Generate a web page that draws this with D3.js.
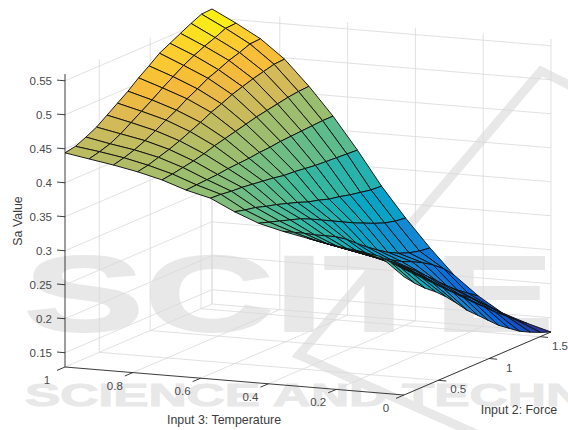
<!DOCTYPE html>
<html>
<head>
<meta charset="utf-8">
<title>Sa surface</title>
<script src="https://d3js.org/d3.v7.min.js"></script>
<style>
html, body { margin: 0; padding: 0; background: #fff; }
text { font-family: "Liberation Sans", Arial, sans-serif; }
.tick { font-size: 11.5px; fill: #4a4a4a; }
.label { font-size: 12.4px; fill: #3c3c3c; }
</style>
</head>
<body>
<svg id="chart" width="568" height="430"></svg>
<script>
// values
var tempValues = [1, 0.929, 0.857, 0.786, 0.714, 0.643, 0.571, 0.5, 0.429, 0.357, 0.286, 0.214, 0.143, 0.071, 0];
var forceValues = [0.163, 0.266, 0.369, 0.473, 0.576, 0.679, 0.782, 0.886, 0.989, 1.092, 1.195, 1.298, 1.402, 1.505, 1.608];
// one row per temperature, one column per force
var saRows = [
  [.444,.447,.454,.462,.473,.484,.495,.508,.519,.531,.539,.547,.555,.562,.563],
  [.438,.442,.447,.455,.465,.475,.485,.496,.506,.516,.524,.531,.537,.544,.545],
  [.432,.436,.441,.448,.456,.465,.473,.483,.491,.500,.506,.513,.518,.524,.525],
  [.425,.428,.433,.438,.444,.451,.458,.466,.472,.479,.484,.489,.493,.497,.498],
  [.416,.418,.421,.424,.428,.433,.437,.441,.445,.449,.452,.455,.458,.460,.461],
  [.404,.405,.406,.407,.409,.410,.411,.413,.414,.416,.417,.418,.419,.420,.420],
  [.395,.394,.392,.391,.389,.387,.385,.382,.381,.379,.377,.376,.375,.374,.373],
  [.378,.374,.371,.366,.362,.357,.352,.346,.342,.337,.334,.330,.327,.324,.323],
  [.364,.359,.354,.349,.344,.337,.329,.321,.313,.305,.298,.291,.285,.281,.279],
  [.355,.347,.339,.330,.322,.314,.304,.291,.279,.268,.258,.250,.244,.240,.238],
  [.348,.337,.326,.315,.304,.293,.282,.272,.263,.254,.247,.239,.229,.217,.201],
  [.341,.330,.319,.308,.297,.286,.275,.262,.250,.236,.222,.208,.195,.184,.173],
  [.336,.325,.313,.300,.287,.274,.260,.246,.230,.217,.204,.193,.179,.165,.151],
  [.330,.315,.300,.286,.272,.258,.244,.230,.216,.202,.189,.175,.163,.150,.139],
  [.303,.287,.273,.261,.247,.231,.214,.200,.186,.172,.161,.150,.142,.135,.129]
];
var zTicks = [0.15, 0.2, 0.25, 0.3, 0.35, 0.4, 0.45, 0.5, 0.55];
var tTicks = [1, 0.8, 0.6, 0.4, 0.2, 0];
var fTicks = [0.5, 1, 1.5];
var parulaStops = [0, 0.14, 0.29, 0.43, 0.57, 0.71, 0.82, 0.87, 0.94, 1];
var parulaColors = ["#352a87", "#0363e1", "#1485d4", "#06a7c6", "#38b99e", "#92bf73", "#d9ba56", "#f5ba3b", "#fcce2e", "#f9fb0e"];

var zMin = 0.129, zMax = 0.56, fMin = 0.163, fMax = 1.608;

var svg = d3.select("#chart");

var tX = d3.scaleLinear().domain([1, 0]).range([0, 339]),
    tY = d3.scaleLinear().domain([1, 0]).range([0, 28]),
    fX = d3.scaleLinear().domain([fMin, fMax]).range([0, 147]),
    fY = d3.scaleLinear().domain([fMin, fMax]).range([0, -63]),
    zY = d3.scaleLinear().domain([zMin, zMax]).range([0, -293]);

function px(t, f) { return 65 + tX(t) + fX(f); }
function py(t, f, z) { return 367 + tY(t) + fY(f) + zY(z); }

var cScale = d3.scaleLinear()
  .domain(parulaStops.map(function(d) { return zMin + d * (0.563 - zMin); }))
  .range(parulaColors)
  .interpolate(d3.interpolateRgb)
  .clamp(true);

// watermark behind everything
var mark = svg.append("g").style("fill", "#e8e8e8").style("stroke", "#e8e8e8");
mark.append("text").text("SCITE")
  .attr("x", 24).attr("y", 331)
  .attr("textLength", 530).attr("lengthAdjust", "spacingAndGlyphs")
  .style("font-size", "108px").style("font-weight", "bold").style("stroke-width", 2);
mark.append("text").text("SCIENCE AND TECHNOLOGY")
  .attr("x", 25).attr("y", 406)
  .attr("textLength", 750).attr("lengthAdjust", "spacingAndGlyphs")
  .style("font-size", "32px").style("font-weight", "bold").style("stroke-width", 1);
mark.append("path")
  .attr("d", "M575,88L541,71L299,355L490,440")
  .style("fill", "none").style("stroke-width", 9);

// grid on the floor and the two back walls
var grid = svg.append("g").attr("stroke", "#d9d9d9").attr("stroke-width", 0.8).attr("fill", "none");
function seg(g, a, b) {
  g.append("line").attr("x1", px(a[0], a[1])).attr("y1", py(a[0], a[1], a[2]))
    .attr("x2", px(b[0], b[1])).attr("y2", py(b[0], b[1], b[2]));
}
tTicks.forEach(function(t) {
  seg(grid, [t, fMin, zMin], [t, fMax, zMin]);
  seg(grid, [t, fMax, zMin], [t, fMax, zMax]);
});
fTicks.forEach(function(f) {
  seg(grid, [1, f, zMin], [0, f, zMin]);
  seg(grid, [1, f, zMin], [1, f, zMax]);
});
seg(grid, [1, fMax, zMin], [0, fMax, zMin]);
seg(grid, [1, fMax, zMin], [1, fMax, zMax]);
zTicks.forEach(function(z) {
  seg(grid, [1, fMin, z], [1, fMax, z]);
  seg(grid, [1, fMax, z], [0, fMax, z]);
});

// surface, far cells first
var surf = svg.append("g").attr("stroke", "#111").attr("stroke-width", 0.95).attr("stroke-linejoin", "round");
var line = d3.line();
var last = forceValues.length - 1, lastT = tempValues.length - 1;
tempValues.slice(0, -1).forEach(function(t, i) {
  for (var j = last - 1; j >= 0; j--) {
    var corners = [[i, j], [i + 1, j], [i + 1, j + 1], [i, j + 1]];
    var pts = corners.map(function(c) {
      return [px(tempValues[c[0]], forceValues[c[1]]), py(tempValues[c[0]], forceValues[c[1]], saRows[c[0]][c[1]])];
    });
    var avg = d3.mean(corners, function(c) { return saRows[c[0]][c[1]]; });
    // low-force cells read warmer than their height in the picture
    var lift = (0.022 + 0.04 * i / lastT) * (1 - j / last);
    surf.append("path").attr("d", line(pts) + "Z").attr("fill", cScale(avg + lift));
  }
});

// axes
var axes = svg.append("g").attr("stroke", "#262626").attr("stroke-width", 0.9).attr("fill", "none");
seg(axes, [1, fMin, zMin], [1, fMin, zMax]);
seg(axes, [1, fMin, zMin], [0, fMin, zMin]);
seg(axes, [0, fMin, zMin], [0, fMax, zMin]);

zTicks.forEach(function(z) {
  var x = px(1, fMin), y = py(1, fMin, z);
  axes.append("line").attr("x1", x).attr("y1", y).attr("x2", x - 8).attr("y2", y - 0.7);
  svg.append("text").attr("class", "tick").attr("x", x - 13).attr("y", y + 4)
    .attr("text-anchor", "end").text(d3.format("")(z));
});
tTicks.forEach(function(t) {
  var x = px(t, fMin), y = py(t, fMin, zMin);
  axes.append("line").attr("x1", x).attr("y1", y).attr("x2", x - 8).attr("y2", y + 3.4);
  svg.append("text").attr("class", "tick").attr("x", x - 18).attr("y", y + 17)
    .attr("text-anchor", "middle").text(d3.format("")(t));
});
fTicks.forEach(function(f) {
  var x = px(0, f), y = py(0, f, zMin);
  axes.append("line").attr("x1", x).attr("y1", y).attr("x2", x + 8).attr("y2", y + 0.7);
  svg.append("text").attr("class", "tick").attr("x", x + 20).attr("y", y + 13)
    .attr("text-anchor", "middle").text(d3.format("")(f));
});

svg.append("text").attr("class", "label").attr("x", 224).attr("y", 424)
  .attr("text-anchor", "middle").text("Input 3: Temperature");
svg.append("text").attr("class", "label").attr("x", 519).attr("y", 414)
  .attr("text-anchor", "middle").text("Input 2: Force");
svg.append("text").attr("class", "label")
  .attr("transform", "translate(22,221) rotate(-90)")
  .attr("text-anchor", "middle").text("Sa Value");
</script>
</body>
</html>
